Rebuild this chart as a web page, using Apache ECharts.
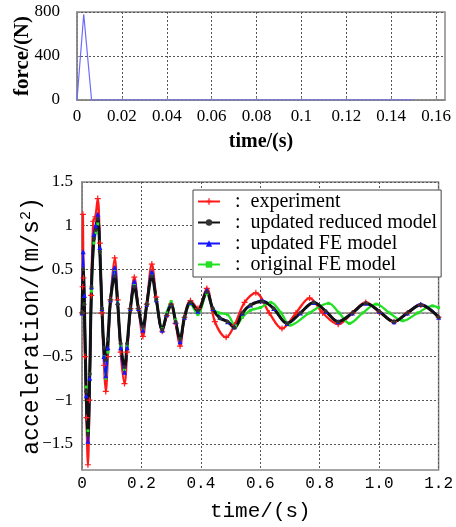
<!DOCTYPE html>
<html><head><meta charset="utf-8">
<script src="https://cdn.jsdelivr.net/npm/echarts@6/dist/echarts.min.js"></script>
<style>html,body{margin:0;padding:0;background:#fff}#c{width:456px;height:527px}</style>
</head><body><div id="c"></div>
<script>
// ---- data ----
const forceTicks = [0, 0.02, 0.04, 0.06, 0.08, 0.1, 0.12, 0.14, 0.16];
const forceData = [[0, 0], [0.003, 780], [0.0065, 0], [0.15, 0]];
const accTicks = [-1.5, -1, -0.5, 0, 0.5, 1, 1.5];
const legendNames = ['experiment', 'updated reduced model', 'updated FE model', 'original FE model'];

const experiment = [[0,0],[0.002,0.3],[0.003,1.13],[0.005,0.4],[0.01,-0.5],[0.015,-1.2],[0.02,-1.74],[0.025,-1.0],[0.031,0.2],[0.038,1.05],[0.045,1.1],[0.053,1.31],[0.06,0.8],[0.067,0.0],[0.074,-0.6],[0.08,-0.9],[0.087,-0.5],[0.096,0.15],[0.11,0.63],[0.12,0.15],[0.13,-0.45],[0.143,-0.81],[0.152,-0.45],[0.163,0.05],[0.176,0.41],[0.19,0.05],[0.205,-0.27],[0.218,0.1],[0.235,0.56],[0.25,0.18],[0.27,-0.21],[0.285,-0.03],[0.3,0.1],[0.315,-0.12],[0.33,-0.38],[0.345,-0.05],[0.365,0.14],[0.39,0.05],[0.42,0.28],[0.447,-0.1],[0.485,-0.28],[0.513,-0.14],[0.547,0.12],[0.585,0.23],[0.63,0.0],[0.673,-0.18],[0.72,0.0],[0.766,0.17],[0.81,0.0],[0.862,-0.13],[0.91,0.0],[0.955,0.12],[1.0,0.01],[1.05,-0.1],[1.095,0.0],[1.14,0.09],[1.2,-0.05]];
const reducedModel = [[0,0],[0.004,0.5],[0.008,0.1],[0.014,-0.9],[0.02,-1.4],[0.026,-0.7],[0.032,0.3],[0.04,0.85],[0.046,0.95],[0.053,1.08],[0.06,0.7],[0.067,0.05],[0.074,-0.4],[0.08,-0.54],[0.087,-0.3],[0.096,0.15],[0.11,0.42],[0.12,0.1],[0.13,-0.35],[0.143,-0.62],[0.152,-0.35],[0.163,0.05],[0.176,0.3],[0.19,0.05],[0.205,-0.16],[0.218,0.1],[0.235,0.42],[0.25,0.15],[0.27,-0.19],[0.285,-0.02],[0.3,0.09],[0.315,-0.1],[0.33,-0.3],[0.345,-0.05],[0.365,0.12],[0.39,0.03],[0.42,0.24],[0.44,0.05],[0.464,-0.06],[0.49,-0.1],[0.513,-0.17],[0.54,0.0],[0.567,0.09],[0.607,0.13],[0.645,0.05],[0.69,-0.12],[0.735,0.0],[0.78,0.12],[0.82,0.02],[0.862,-0.1],[0.91,0.0],[0.955,0.11],[1.0,0.02],[1.05,-0.1],[1.095,0.0],[1.14,0.09],[1.2,-0.05]];
const updatedFE = [[0,0],[0.004,0.7],[0.008,0.2],[0.014,-0.95],[0.02,-1.47],[0.026,-0.75],[0.032,0.3],[0.04,0.9],[0.046,1.0],[0.053,1.13],[0.06,0.75],[0.067,0.05],[0.074,-0.5],[0.08,-0.72],[0.087,-0.4],[0.096,0.15],[0.11,0.52],[0.12,0.12],[0.13,-0.4],[0.143,-0.68],[0.152,-0.4],[0.163,0.05],[0.176,0.36],[0.19,0.05],[0.205,-0.2],[0.218,0.1],[0.235,0.47],[0.25,0.15],[0.27,-0.2],[0.285,-0.02],[0.3,0.1],[0.315,-0.1],[0.33,-0.33],[0.345,-0.05],[0.365,0.12],[0.39,0.02],[0.42,0.26],[0.44,0.05],[0.464,-0.05],[0.49,-0.1],[0.513,-0.16],[0.54,0.0],[0.567,0.09],[0.607,0.14],[0.645,0.05],[0.69,-0.12],[0.735,0.0],[0.78,0.12],[0.82,0.02],[0.862,-0.1],[0.91,0.0],[0.955,0.11],[1.0,0.02],[1.05,-0.1],[1.095,0.0],[1.14,0.1],[1.2,-0.05]];
const originalFE = [[0,0],[0.004,0.5],[0.008,0.1],[0.014,-0.85],[0.02,-1.35],[0.026,-0.7],[0.032,0.25],[0.04,0.8],[0.046,0.92],[0.053,1.02],[0.06,0.7],[0.067,0.05],[0.074,-0.5],[0.08,-0.75],[0.087,-0.45],[0.096,0.15],[0.11,0.5],[0.12,0.12],[0.13,-0.38],[0.143,-0.65],[0.152,-0.38],[0.163,0.05],[0.176,0.33],[0.19,0.05],[0.205,-0.18],[0.218,0.1],[0.235,0.45],[0.25,0.15],[0.27,-0.18],[0.285,0.0],[0.3,0.13],[0.315,-0.08],[0.33,-0.3],[0.345,-0.05],[0.365,0.1],[0.39,-0.02],[0.42,0.22],[0.44,0.05],[0.46,0.0],[0.49,-0.02],[0.517,-0.15],[0.54,-0.05],[0.567,0.03],[0.6,0.06],[0.635,0.12],[0.67,0.0],[0.7,-0.14],[0.765,0.0],[0.83,0.11],[0.865,0.0],[0.9,-0.12],[0.945,0.0],[0.99,0.1],[1.035,0.0],[1.08,-0.09],[1.13,0.0],[1.18,0.08],[1.2,0.06]];

// ---- chart ----
const chart = echarts.init(document.getElementById('c'), null, {renderer: 'canvas'});
const serif = 'Liberation Serif';
const mono = 'Liberation Mono';
const gridLine = {show: true, lineStyle: {type: [2, 2], color: '#555', width: 1}};
const boxAxisLine = {show: true, lineStyle: {color: '#888', width: 1.5}};
const plusPath = 'path://M4,0h2v4h4v2h-4v4h-2v-4h-4v-2h4z';
const minus = v => String(v).replace('-', '\u2212');

const option = {
  backgroundColor: '#fff',
  animation: false,
  grid: [
    {left: 77, right: 11, top: 12, height: 88, show: true, borderColor: '#888', borderWidth: 1.5},
    {left: 82, right: 12, top: 182, height: 290, show: true, borderColor: '#888', borderWidth: 1.5}
  ],
  xAxis: [
    {gridIndex: 0, type: 'value', min: 0, max: 0.164,
     name: 'time/(s)', nameLocation: 'middle', nameGap: 32, nameMoveOverlap: false,
     nameTextStyle: {fontFamily: serif, fontSize: 20, fontWeight: 'bold', color: '#000'},
     axisLine: boxAxisLine,
     axisTick: {show: true, inside: true, length: 3, customValues: forceTicks, lineStyle: {color: '#888'}},
     axisLabel: {customValues: forceTicks, fontFamily: serif, fontSize: 17, color: '#000', margin: 8,
                 formatter: v => String(v)},
     splitLine: gridLine},
    {gridIndex: 1, type: 'value', min: 0, max: 1.2, interval: 0.2,
     name: 'time/(s)', nameLocation: 'middle', nameGap: 31, nameMoveOverlap: false,
     nameTextStyle: {fontFamily: mono, fontSize: 21, color: '#000'},
     axisLine: boxAxisLine,
     axisTick: {show: true, inside: true, length: 3, lineStyle: {color: '#888'}},
     axisLabel: {fontFamily: mono, fontSize: 16, color: '#000', margin: 6,
                 formatter: v => v === 0 ? '0' : v.toFixed(1)},
     splitLine: gridLine}
  ],
  yAxis: [
    {gridIndex: 0, type: 'value', min: 0, max: 800, interval: 400,
     name: 'force/(N)', nameLocation: 'middle', nameGap: 44, nameMoveOverlap: false,
     nameTextStyle: {fontFamily: serif, fontSize: 21, fontWeight: 'bold', color: '#000'},
     axisLine: boxAxisLine,
     axisTick: {show: true, inside: true, length: 3, lineStyle: {color: '#888'}},
     axisLabel: {fontFamily: serif, fontSize: 17, color: '#000', margin: 17},
     splitLine: gridLine},
    {gridIndex: 1, type: 'value', min: -1.8, max: 1.5,
     name: 'acceleration/(m/s{sup|2})', nameLocation: 'middle', nameGap: 38, nameMoveOverlap: false,
     nameTextStyle: {fontFamily: mono, fontSize: 23, color: '#000',
                     rich: {sup: {fontFamily: mono, fontSize: 15, verticalAlign: 'top', padding: [0, 0, 10, 0]}}},
     axisLine: boxAxisLine,
     axisTick: {show: true, inside: true, length: 3, customValues: accTicks, lineStyle: {color: '#888'}},
     axisLabel: {customValues: accTicks, fontFamily: serif, fontSize: 17, color: '#000', margin: 9,
                 formatter: v => minus(v)},
     splitLine: gridLine}
  ],
  legend: {
    data: legendNames, orient: 'vertical', left: 193, top: 190,
    padding: [1, 4, 2, 4], itemGap: 0, itemWidth: 22, itemHeight: 8,
    backgroundColor: '#fff', borderColor: '#444', borderWidth: 1,
    textStyle: {fontFamily: serif, fontSize: 20, color: '#000', lineHeight: 21},
    formatter: n => '  :  ' + n
  },
  series: [
    {type: 'line', xAxisIndex: 0, yAxisIndex: 0, data: forceData, showSymbol: false,
     lineStyle: {color: '#6b6bff', width: 1.2}, silent: true},
    {name: 'experiment', type: 'line', xAxisIndex: 1, yAxisIndex: 1, data: experiment,
     smooth: 0.35, symbol: plusPath, symbolSize: 6, itemStyle: {color: '#ff1a1a'},
     lineStyle: {color: '#ff1a1a', width: 2.3}},
    {name: 'original FE model', type: 'line', xAxisIndex: 1, yAxisIndex: 1, data: originalFE,
     smooth: 0.35, symbol: 'rect', symbolSize: 3, itemStyle: {color: '#22e022'},
     lineStyle: {color: '#22e022', width: 2.3}},
    {name: 'updated FE model', type: 'line', xAxisIndex: 1, yAxisIndex: 1, data: updatedFE,
     smooth: 0.35, symbol: 'triangle', symbolSize: 5, itemStyle: {color: '#1414ff'},
     lineStyle: {color: '#1414ff', width: 2.3}},
    {name: 'updated reduced model', type: 'line', xAxisIndex: 1, yAxisIndex: 1, data: reducedModel,
     smooth: 0.35, symbol: 'circle', symbolSize: 4, itemStyle: {color: '#333'},
     lineStyle: {color: '#111', width: 3}}
  ]
};
chart.setOption(option);
</script></body></html>
